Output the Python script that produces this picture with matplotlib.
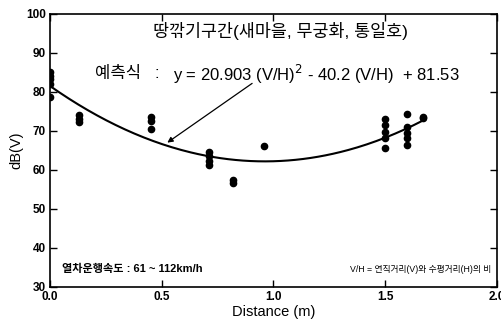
import numpy as np
import matplotlib
matplotlib.use("Agg")
import matplotlib.pyplot as plt

plt.rcParams['font.family'] = ['Liberation Sans', 'Noto Sans CJK KR', 'DejaVu Sans']

# measured points (distance ratio V/H, dB(V))
x_pts = [0.0, 0.0, 0.0, 0.0, 0.0,
         0.13, 0.13, 0.13,
         0.45, 0.45, 0.45,
         0.71, 0.71, 0.71, 0.71,
         0.82, 0.82,
         0.96,
         1.50, 1.50, 1.50, 1.50, 1.50,
         1.60, 1.60, 1.60, 1.60, 1.60,
         1.67, 1.67]
y_pts = [85.0, 84.0, 83.2, 82.0, 78.6,
         74.0, 73.0, 72.3,
         73.5, 72.6, 70.6,
         64.6, 63.5, 62.3, 61.2,
         57.3, 56.6,
         66.1,
         73.1, 71.5, 69.8, 68.3, 65.6,
         74.4, 71.0, 69.6, 68.3, 66.3,
         73.6, 73.2]

# regression coefficients
coef_a, coef_b, coef_c = 20.903, -40.2, 81.53
fit_range = [0.0, 1.67]

title_txt = "땅깎기구간(새마을, 무궁화, 통일호)"
eq_label = "예측식"
eq_txt = "y = 20.903 (V/H)$^2$ - 40.2 (V/H)  + 81.53"
speed_txt = "열차운행속도 : 61 ~ 112km/h"
vh_txt = "V/H = 연직거리(V)와 수평거리(H)의 비"

fig = plt.figure(figsize=(5.02, 3.29), dpi=100)
ax = fig.add_axes([0.0996, 0.1277, 0.890, 0.830])

ax.plot(x_pts, y_pts, 'o', color='black', markersize=4.5)
xf = np.linspace(fit_range[0], fit_range[1], 200)
yf = coef_a * xf**2 + coef_b * xf + coef_c
ax.plot(xf, yf, color='black', linewidth=1.5)

ax.set_xlim(0, 2.0)
ax.set_ylim(30, 100)
ax.set_xticks([0.0, 0.5, 1.0, 1.5, 2.0])
ax.set_xticklabels(["0.0", "0.5", "1.0", "1.5", "2.0"])
ax.set_yticks([30, 40, 50, 60, 70, 80, 90, 100])
ax.tick_params(direction='in', top=True, right=True, length=5, width=1,
               labelsize=8.5, pad=3)
for lbl in ax.get_xticklabels() + ax.get_yticklabels():
    lbl.set_fontweight('bold')
for s in ax.spines.values():
    s.set_linewidth(1.2)

ax.set_xlabel("Distance (m)", fontsize=10.5, labelpad=1)
ax.set_ylabel("dB(V)", fontsize=10.5, labelpad=2)

ax.text(1.03, 95.6, title_txt, fontsize=12.5, ha='center', va='center')
ax.text(0.202, 84.6, eq_label, fontsize=12, ha='left', va='center')
ax.text(0.48, 84.6, ":", fontsize=12, ha='center', va='center')
ax.text(0.552, 84.6, eq_txt, fontsize=12, ha='left', va='center')
ax.annotate("", xy=(0.515, 66.6), xytext=(0.915, 82.6),
            arrowprops=dict(arrowstyle='-|>', color='black', lw=0.9,
                            mutation_scale=8))
ax.text(0.055, 34.6, speed_txt, fontsize=8, ha='left', va='center', fontweight='bold')
ax.text(1.345, 34.6, vh_txt, fontsize=6.3, ha='left', va='center')

fig.savefig("out.png", dpi=100)
